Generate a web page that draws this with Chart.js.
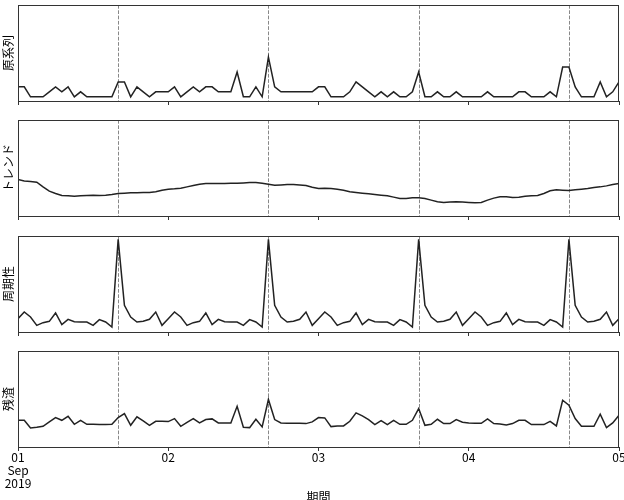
<!DOCTYPE html>
<html lang="ja">
<head>
<meta charset="utf-8">
<title>時系列分解</title>
<script src="https://cdn.jsdelivr.net/npm/chart.js@4.4.1/dist/chart.umd.min.js"></script>
<style>
  html, body { margin: 0; padding: 0; width: 624px; height: 500px; overflow: hidden; background: #fff; }
  .panel { position: absolute; left: 0; width: 624px; }
</style>
</head>
<body>
<div class="panel" style="top:4px;height:103px"><canvas id="origChart"></canvas></div>
<div class="panel" style="top:119px;height:103px"><canvas id="trendChart"></canvas></div>
<div class="panel" style="top:235px;height:103px"><canvas id="seasonChart"></canvas></div>
<div class="panel" style="top:350px;height:160px"><canvas id="residChart"></canvas></div>
<script>
// 2019-09-01 00:00 から 1 時間ごと (0..96 時間)
const hours = Array.from({ length: 97 }, (_, i) => i);
const tickLabels = [["01", "Sep", "2019"], "02", "03", "04", "05"];
// 毎日 16:00 の点線
const peakHours = [16, 40, 64, 88];

// 原系列
const original = [
    2, 2, 0, 0, 0, 1, 2, 1, 2, 0, 1, 0, 0, 0, 0, 0, 3, 3, 0, 2, 1, 0, 1, 1,
    1, 2, 0, 1, 2, 1, 2, 2, 1, 1, 1, 5, 0, 0, 2, 0, 8, 2, 1, 1, 1, 1, 1, 1,
    2, 2, 0, 0, 0, 1, 3, 2, 1, 0, 1, 0, 1, 0, 0, 1, 5, 0, 0, 1, 0, 0, 1, 0,
    0, 0, 0, 1, 0, 0, 0, 0, 1, 1, 0, 0, 0, 1, 0, 6, 6, 2, 0, 0, 0, 3, 0, 1,
    3
];

// トレンド
const trend = [
    1.10, 1.06, 1.04, 1.02, 0.88, 0.75, 0.68, 0.62, 0.61, 0.60, 0.61, 0.62, 0.63, 0.62, 0.63, 0.65, 0.68, 0.69, 0.70, 0.70, 0.71, 0.71, 0.73, 0.78,
    0.81, 0.82, 0.84, 0.88, 0.92, 0.96, 0.98, 0.98, 0.98, 0.98, 0.99, 0.99, 1.00, 1.01, 1.01, 0.99, 0.96, 0.93, 0.94, 0.95, 0.95, 0.94, 0.92, 0.87,
    0.83, 0.84, 0.83, 0.81, 0.78, 0.73, 0.71, 0.69, 0.67, 0.65, 0.63, 0.61, 0.57, 0.53, 0.53, 0.55, 0.55, 0.53, 0.48, 0.43, 0.41, 0.42, 0.43, 0.42,
    0.41, 0.40, 0.41, 0.48, 0.54, 0.58, 0.58, 0.56, 0.57, 0.60, 0.61, 0.62, 0.68, 0.76, 0.79, 0.78, 0.77, 0.79, 0.81, 0.83, 0.86, 0.88, 0.91, 0.95,
    0.98
];

// 周期性
const seasonal = [
    0.00, 0.40, 0.10, -0.40, -0.24, -0.16, 0.34, -0.36, -0.04, -0.18, -0.20, -0.20, -0.40, -0.06, -0.20, -0.50, 4.76, 0.80, 0.10, -0.20, -0.16, -0.04, 0.40, -0.40,
    0.00, 0.40, 0.10, -0.40, -0.24, -0.16, 0.34, -0.36, -0.04, -0.18, -0.20, -0.20, -0.40, -0.06, -0.20, -0.50, 4.76, 0.80, 0.10, -0.20, -0.16, -0.04, 0.40, -0.40,
    0.00, 0.40, 0.10, -0.40, -0.24, -0.16, 0.34, -0.36, -0.04, -0.18, -0.20, -0.20, -0.40, -0.06, -0.20, -0.50, 4.76, 0.80, 0.10, -0.20, -0.16, -0.04, 0.40, -0.40,
    0.00, 0.40, 0.10, -0.40, -0.24, -0.16, 0.34, -0.36, -0.04, -0.18, -0.20, -0.20, -0.40, -0.06, -0.20, -0.50, 4.76, 0.80, 0.10, -0.20, -0.16, -0.04, 0.40, -0.40,
    0.00
];

// 残渣
const residual = [
    0.33, 0.33, -0.43, -0.37, -0.27, 0.17, 0.60, 0.33, 0.73, -0.07, 0.33, -0.07, -0.07, -0.10, -0.10, -0.07, 0.60, 1.00, -0.17, 0.67, 0.27, -0.17, 0.23, 0.23,
    0.20, 0.50, -0.27, 0.13, 0.50, 0.07, 0.40, 0.47, 0.07, 0.07, 0.07, 1.73, -0.37, -0.40, 0.43, -0.33, 2.40, 0.40, 0.07, 0.03, 0.03, 0.03, 0.00, 0.17,
    0.60, 0.57, -0.30, -0.23, -0.23, 0.23, 1.07, 0.77, 0.40, -0.10, 0.30, -0.10, 0.33, -0.07, -0.07, 0.33, 1.50, -0.17, -0.07, 0.43, 0.00, 0.00, 0.40, 0.13,
    0.07, 0.03, 0.03, 0.47, 0.00, -0.03, -0.13, 0.00, 0.33, 0.33, -0.10, -0.10, -0.10, 0.23, -0.23, 2.33, 1.83, 0.50, -0.27, -0.27, -0.27, 0.93, -0.40, 0.07,
    0.83
];

Chart.defaults.font.family = '"Noto Sans CJK JP", "Noto Sans", sans-serif';
Chart.defaults.font.size = 12;
Chart.defaults.color = "#000";

// 枠線と 16:00 の点線
const panelFrame = {
    id: "panelFrame",
    beforeDatasetsDraw(chart) {
        const { ctx, chartArea: a, scales: { x } } = chart;
        ctx.save();
        ctx.strokeStyle = "#888";
        ctx.lineWidth = 1;
        ctx.setLineDash([3.7, 1.6]);
        peakHours.forEach(h => {
            const px = Math.round(x.getPixelForValue(h)) + 0.5;
            ctx.beginPath();
            ctx.moveTo(px, a.top);
            ctx.lineTo(px, a.bottom);
            ctx.stroke();
        });
        ctx.restore();
    },
    afterDatasetsDraw(chart) {
        const { ctx, chartArea: a } = chart;
        ctx.save();
        ctx.strokeStyle = "#333";
        ctx.lineWidth = 1;
        ctx.strokeRect(a.left + 0.5, a.top + 0.5, a.width - 1, a.height);
        ctx.restore();
    }
};

function makePanel(id, label, values, yMin, yMax, isBottom) {
    return new Chart(document.getElementById(id), {
        type: "line",
        data: {
            labels: hours,
            datasets: [{
                data: values,
                borderColor: "#222",
                borderWidth: 1.5,
                pointRadius: 0,
                tension: 0,
                fill: false
            }]
        },
        options: {
            responsive: true,
            maintainAspectRatio: false,
            animation: false,
            layout: { padding: { top: 1, right: 5, left: 0, bottom: 0 } },
            plugins: { legend: { display: false }, tooltip: { enabled: false } },
            scales: {
                x: {
                    type: "linear",
                    min: 0,
                    max: 96,
                    border: { display: false },
                    grid: { drawOnChartArea: false, tickLength: 4, tickColor: "#333" },
                    ticks: {
                        display: isBottom,
                        stepSize: 24,
                        autoSkip: false,
                        maxRotation: 0,
                        padding: 0,
                        font: { size: 12, lineHeight: 1.08 },
                        callback: v => tickLabels[v / 24]
                    },
                    title: { display: isBottom, text: "期間", padding: { top: 0, bottom: 5 } },
                    afterFit: s => {
                        s.height = isBottom ? 63 : 6;
                        s.paddingLeft = 0;
                        s.paddingRight = 0;
                    }
                },
                y: {
                    min: yMin,
                    max: yMax,
                    border: { display: false },
                    grid: { display: false },
                    ticks: { display: false },
                    title: { display: true, text: label, padding: { top: 1, bottom: 0 } },
                    afterFit: s => { s.width = 18; }
                }
            }
        },
        plugins: [panelFrame]
    });
}

makePanel("origChart", "原系列", original, -0.85, 18.5, false);
makePanel("trendChart", "トレンド", trend, 0, 2.9, false);
makePanel("seasonChart", "周期性", seasonal, -0.8, 4.96, false);
makePanel("residChart", "残渣", residual, -2.33, 7.23, true);
</script>
</body>
</html>
